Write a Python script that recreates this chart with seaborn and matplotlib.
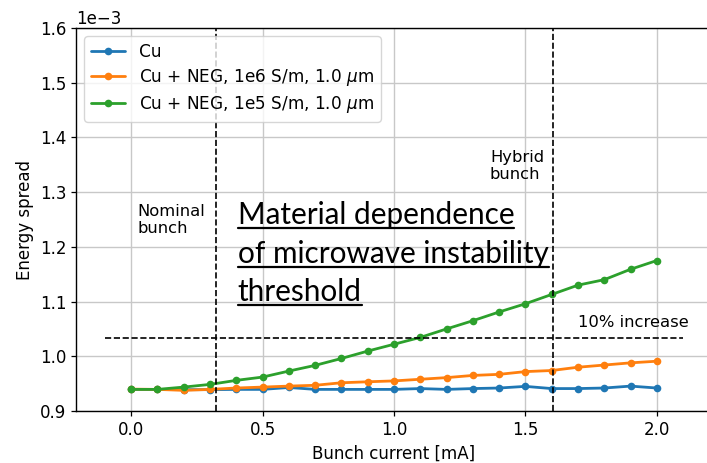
import numpy as np
import pandas as pd
import matplotlib
matplotlib.use("Agg")
import matplotlib.pyplot as plt
import seaborn as sns
from matplotlib.lines import Line2D

# bunch current [mA]
current = [0.0, 0.1, 0.2, 0.3, 0.4, 0.5, 0.6, 0.7, 0.8, 0.9, 1.0,
           1.1, 1.2, 1.3, 1.4, 1.5, 1.6, 1.7, 1.8, 1.9, 2.0]

# energy spread, units of 1e-3
spread_cu = [0.9395, 0.9395, 0.939, 0.939, 0.9395, 0.9395, 0.943, 0.9395, 0.9395, 0.9395, 0.9395,
             0.941, 0.9395, 0.941, 0.942, 0.945, 0.941, 0.941, 0.942, 0.9455, 0.942]
spread_neg6 = [0.940, 0.9395, 0.9377, 0.9395, 0.942, 0.9437, 0.9455, 0.947, 0.9516, 0.9534, 0.955,
               0.958, 0.961, 0.965, 0.967, 0.972, 0.974, 0.980, 0.984, 0.988, 0.991]
spread_neg5 = [0.9395, 0.9395, 0.9437, 0.9486, 0.956, 0.962, 0.973, 0.9834, 0.996, 1.0095, 1.022,
               1.0345, 1.050, 1.065, 1.081, 1.096, 1.113, 1.130, 1.140, 1.159, 1.175]

series_names = ["Cu", "Cu + NEG, 1e6 S/m, 1.0 $\\mu$m", "Cu + NEG, 1e5 S/m, 1.0 $\\mu$m"]
colors = ["#1f77b4", "#ff7f0e", "#2ca02c"]

nominal_current = 0.322
hybrid_current = 1.605
threshold = 1.034  # 10% above 0.94
threshold_span = [-0.1, 2.1]

df = pd.concat([
    pd.DataFrame({"current": current, "spread": np.array(s) * 1e-3, "series": n})
    for s, n in zip([spread_cu, spread_neg6, spread_neg5], series_names)
])

sns.set_theme(style="ticks", rc={
    "axes.grid": True, "grid.color": "#c8c8c8", "grid.linewidth": 1.0,
    "axes.edgecolor": "black", "axes.linewidth": 1.0,
    "xtick.color": "black", "ytick.color": "black",
    "xtick.major.size": 3.5, "ytick.major.size": 3.5,
    "xtick.major.width": 0.9, "ytick.major.width": 0.9,
    "text.color": "black", "axes.labelcolor": "black",
})
plt.rcParams["font.family"] = ["DejaVu Sans"]
plt.rcParams["font.size"] = 12
plt.rcParams["xtick.labelsize"] = 12
plt.rcParams["ytick.labelsize"] = 12
plt.rcParams["axes.labelsize"] = 12

fig = plt.figure(figsize=(7.07, 4.63), dpi=100)
ax = fig.add_axes([76 / 707, 1 - 411 / 463, (712 - 76) / 707, (411 - 28) / 463])

sns.lineplot(data=df, x="current", y="spread", hue="series", palette=colors,
             marker="o", markersize=5.5, markeredgewidth=0, linewidth=2, ax=ax)

ax.axvline(nominal_current, color="black", ls="--", lw=1.2)
ax.axvline(hybrid_current, color="black", ls="--", lw=1.2)
ax.plot(threshold_span, [threshold * 1e-3] * 2, color="black", ls="--", lw=1.2)

ax.text(0.025, 1.249e-3, "Nominal\nbunch", fontsize=11.8, va="center", ha="left")
ax.text(1.365, 1.348e-3, "Hybrid\nbunch", fontsize=11.8, va="center", ha="left")
ax.text(1.70, 1.061e-3, "10% increase", fontsize=11.8, va="center", ha="left")

ax.set_xlim(-0.21, 2.21)
ax.set_ylim(0.9e-3, 1.6e-3)
ax.set_xticks([0.0, 0.5, 1.0, 1.5, 2.0])
ax.set_xlabel("Bunch current [mA]")
ax.set_ylabel("Energy spread")
ax.ticklabel_format(axis="y", style="sci", scilimits=(-3, -3))
ax.yaxis.get_offset_text().set_fontsize(12)

handles = ax.get_lines()[:3]
ax.legend(handles, series_names, loc="upper left", fontsize=12.2, framealpha=0.8,
          handlelength=2, borderaxespad=0.5, labelspacing=0.35)

# overlay title, underlined
lines = ["Material dependence", "of microwave instability", "threshold"]
baselines = [224, 263, 301]
texts = []
for s, py in zip(lines, baselines):
    t = fig.text(237.7 / 707, 1 - py / 463, s, fontsize=21.4, family="Lato",
                 va="baseline", ha="left")
    texts.append(t)
fig.canvas.draw()
for t, py in zip(texts, baselines):
    bb = t.get_window_extent()
    yl = 463 - py - 4
    fig.add_artist(Line2D([bb.x0 / 707, bb.x1 / 707], [yl / 463, yl / 463],
                          transform=fig.transFigure, color="black", lw=1.6))

fig.savefig("out.png", dpi=100)
